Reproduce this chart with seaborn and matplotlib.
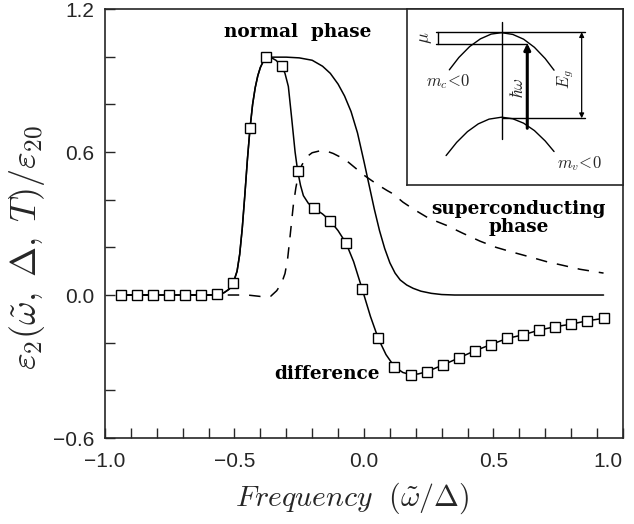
import numpy as np
import pandas as pd
import matplotlib
matplotlib.use("Agg")
import matplotlib.pyplot as plt
import seaborn as sns

# difference (markers)
diff_x = [-0.939, -0.877, -0.815, -0.753, -0.691, -0.629, -0.566, -0.504, -0.442, -0.380,
          -0.318, -0.256, -0.193, -0.131, -0.069, -0.007, 0.055, 0.117, 0.180, 0.242,
          0.304, 0.366, 0.428, 0.490, 0.553, 0.615, 0.677, 0.739, 0.801, 0.863, 0.925]
diff_y = [0.0, 0.0, 0.0, 0.0, 0.0, 0.0, 0.003, 0.05, 0.70, 1.0,
          0.962, 0.52, 0.364, 0.312, 0.217, 0.025, -0.182, -0.30, -0.334, -0.322,
          -0.294, -0.264, -0.234, -0.208, -0.182, -0.167, -0.147, -0.133, -0.122, -0.108, -0.098]

# rising edge shared by normal phase and difference
rise_x = [-0.939, -0.60, -0.56, -0.54, -0.52, -0.505, -0.49, -0.48, -0.47, -0.46, -0.45,
          -0.44, -0.43, -0.42, -0.41, -0.40, -0.39, -0.38]
rise_y = [0.0, 0.0, 0.003, 0.01, 0.025, 0.05, 0.10, 0.17, 0.28, 0.42, 0.57,
          0.70, 0.80, 0.87, 0.92, 0.955, 0.978, 0.99]

# difference (smooth line, after the peak)
diff_tail_x = [-0.36, -0.34, -0.318, -0.305, -0.292, -0.279, -0.266, -0.256, -0.245, -0.234,
               -0.215, -0.193, -0.16, -0.131, -0.10, -0.069, -0.04, -0.007, 0.025, 0.055,
               0.085, 0.117, 0.15, 0.18, 0.21, 0.242, 0.304, 0.366, 0.428, 0.490, 0.553,
               0.615, 0.677, 0.739, 0.801, 0.863, 0.925]
diff_tail_y = [0.997, 0.985, 0.962, 0.93, 0.875, 0.74, 0.60, 0.52, 0.46, 0.417,
               0.385, 0.364, 0.34, 0.312, 0.27, 0.217, 0.14, 0.025, -0.09, -0.182,
               -0.25, -0.30, -0.325, -0.334, -0.331, -0.322, -0.294, -0.264, -0.234, -0.208, -0.182,
               -0.167, -0.147, -0.133, -0.122, -0.108, -0.098]

# normal phase (after the peak)
normal_tail_x = [-0.36, -0.30, -0.25, -0.20, -0.16, -0.13, -0.10, -0.075, -0.05, -0.025, 0.0,
                 0.02, 0.04, 0.06, 0.08, 0.10, 0.12, 0.14, 0.165, 0.19, 0.22, 0.26, 0.30,
                 0.35, 0.925]
normal_tail_y = [0.998, 0.998, 0.995, 0.985, 0.96, 0.93, 0.885, 0.835, 0.77, 0.68, 0.56,
                 0.46, 0.36, 0.27, 0.195, 0.135, 0.092, 0.063, 0.042, 0.028, 0.016, 0.007, 0.002,
                 0.0, 0.0]

# superconducting phase
sc_x = [-0.939, -0.45, -0.40, -0.36, -0.337, -0.318, -0.305, -0.295, -0.285, -0.273, -0.263,
        -0.254, -0.24, -0.221, -0.20, -0.17, -0.14, -0.119, -0.09, -0.06, -0.03, -0.003,
        0.03, 0.06, 0.09, 0.113, 0.15, 0.19, 0.25, 0.319, 0.38, 0.448, 0.51, 0.576,
        0.64, 0.705, 0.77, 0.834, 0.925]
sc_y = [0.0, 0.0, -0.006, -0.005, 0.018, 0.05, 0.09, 0.15, 0.25, 0.375, 0.45,
        0.50, 0.545, 0.58, 0.597, 0.605, 0.602, 0.594, 0.578, 0.557, 0.53, 0.505,
        0.48, 0.458, 0.438, 0.424, 0.39, 0.361, 0.322, 0.292, 0.26, 0.226, 0.200, 0.179,
        0.160, 0.140, 0.124, 0.108, 0.092]

# inset sketch (axes fraction coordinates)
cond_u = [0.196, 0.24, 0.29, 0.34, 0.39, 0.438, 0.49, 0.54, 0.59, 0.64, 0.681]
cond_v = [0.654, 0.724, 0.786, 0.830, 0.857, 0.865, 0.855, 0.828, 0.782, 0.718, 0.652]
val_u = [0.181, 0.23, 0.28, 0.33, 0.38, 0.438, 0.49, 0.54, 0.59, 0.64, 0.681]
val_v = [0.167, 0.242, 0.303, 0.347, 0.374, 0.385, 0.376, 0.351, 0.309, 0.250, 0.190]

sns.set_style("ticks")
plt.rcParams['font.family'] = ['Liberation Sans', 'DejaVu Sans']
plt.rcParams['mathtext.fontset'] = 'cm'

fig = plt.figure(figsize=(6.34, 5.24), dpi=100)
ax = fig.add_axes([0.1656, 0.1641, 0.817, 0.8187])

normal_x = rise_x + normal_tail_x
normal_y = rise_y + normal_tail_y
diff_line_x = rise_x + diff_tail_x
diff_line_y = rise_y + diff_tail_y

sns.lineplot(x=sc_x, y=sc_y, ax=ax, color='black', lw=1.1, sort=False, estimator=None)
ax.lines[-1].set_dashes([7.5, 6.5])
sns.lineplot(x=normal_x, y=normal_y, ax=ax, color='black', lw=1.1, sort=False, estimator=None)
sns.lineplot(x=diff_line_x, y=diff_line_y, ax=ax, color='black', lw=1.1, sort=False, estimator=None)
ax.plot(diff_x, diff_y, ls='none', marker='s', ms=6.5, mfc='white', mec='black', mew=1.0)

ax.set_xlim(-1.0, 1.0)
ax.set_ylim(-0.6, 1.2)
ax.set_xticks([-1.0, -0.5, 0.0, 0.5, 1.0])
ax.set_xticks(np.arange(-1.0, 1.01, 0.1), minor=True)
ax.set_yticks([-0.6, 0.0, 0.6, 1.2])
ax.set_yticks(np.arange(-0.6, 1.21, 0.2), minor=True)
ax.set_xticklabels(['\u22121.0', '\u22120.5', '0.0', '0.5', '1.0'])
ax.set_yticklabels(['\u22120.6', '0.0', '0.6', '1.2'])
ax.get_xticklabels()[-1].set_ha('right')
ax.tick_params(which='both', direction='in', length=7, width=1.0, labelsize=15,
               top=False, right=False)
ax.tick_params(axis='x', pad=10)
ax.tick_params(axis='y', pad=8)
for s in ax.spines.values():
    s.set_linewidth(1.2)

ax.set_xlabel(r'$Frequency\ \ (\tilde{\omega}/\Delta)$', fontsize=21.5)
ax.set_ylabel(r'$\varepsilon_2(\tilde{\omega},\;\Delta,\;T)/\varepsilon_{20}$', fontsize=26)
ax.xaxis.set_label_coords(0.477, -0.1)
ax.yaxis.set_label_coords(-0.112, 0.445)

lbl = dict(family='DejaVu Serif', fontweight='bold', fontsize=13.3, color='black')
ax.text(-0.255, 1.105, 'normal  phase', ha='center', va='center', **lbl)
ax.text(0.598, 0.323, 'superconducting\nphase', ha='center', va='center',
        linespacing=0.95, **lbl)
ax.text(-0.143, -0.332, 'difference', ha='center', va='center', **lbl)

# inset
ins = fig.add_axes([0.642, 0.647, 0.3405, 0.336])
ins.set_xlim(0, 1)
ins.set_ylim(0, 1)
ins.set_xticks([])
ins.set_yticks([])
for s in ins.spines.values():
    s.set_linewidth(1.2)
sns.lineplot(x=cond_u, y=cond_v, ax=ins, color='black', lw=1.0, sort=False, estimator=None)
sns.lineplot(x=val_u, y=val_v, ax=ins, color='black', lw=1.0, sort=False, estimator=None)
ins.plot([0.438, 0.438], [0.263, 0.928], color='black', lw=1.0)
ins.plot([0.134, 0.824], [0.868, 0.868], color='black', lw=1.0)
ins.plot([0.134, 0.554], [0.801, 0.801], color='black', lw=1.0)
ins.plot([0.145, 0.145], [0.801, 0.868], color='black', lw=1.0)
ins.plot([0.438, 0.824], [0.379, 0.379], color='black', lw=1.0)
ins.annotate('', xy=(0.809, 0.868), xytext=(0.809, 0.379),
             arrowprops=dict(arrowstyle='<|-|>', color='black', lw=0.9,
                             mutation_scale=7, shrinkA=0, shrinkB=0))
ins.annotate('', xy=(0.557, 0.805), xytext=(0.557, 0.322),
             arrowprops=dict(arrowstyle='-|>', color='black', lw=2.2,
                             mutation_scale=9, shrinkA=0, shrinkB=0))
ins.text(0.085, 0.835, r'$\mu$', rotation=90, ha='center', va='center', fontsize=13)
ins.text(0.19, 0.59, r'$m_c\!<\!0$', ha='center', va='center', fontsize=12)
ins.text(0.80, 0.12, r'$m_v\!<\!0$', ha='center', va='center', fontsize=12)
ins.text(0.51, 0.55, r'$\hbar\omega$', rotation=90, ha='center', va='center', fontsize=12)
ins.text(0.735, 0.6, r'$E_g$', rotation=90, ha='center', va='center', fontsize=12)

fig.savefig('out.png', dpi=100)
